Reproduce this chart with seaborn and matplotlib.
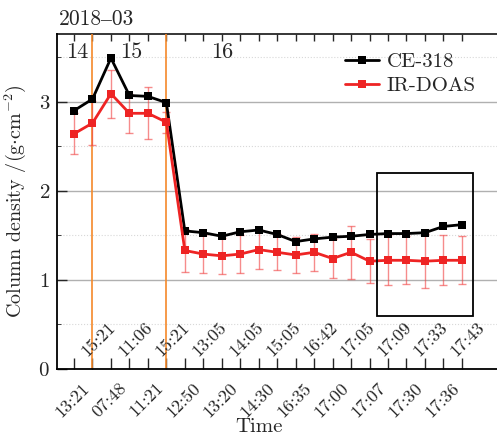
import matplotlib
matplotlib.use("Agg")
import matplotlib.pyplot as plt
import matplotlib.transforms as mtransforms
from matplotlib.patches import Rectangle
from matplotlib.ticker import MultipleLocator
import pandas as pd
import seaborn as sns

# time stamps of each measurement (2018-03, days 14/15/16)
times = ['13:21', '15:21', '07:48', '11:06', '11:21', '15:21', '12:50', '13:05',
         '13:20', '14:05', '14:30', '15:05', '16:35', '16:42', '17:00', '17:05',
         '17:07', '17:09', '17:30', '17:33', '17:36', '17:43']
ce318 = [2.90, 3.03, 3.49, 3.07, 3.06, 2.99, 1.55, 1.53, 1.49, 1.54, 1.56,
         1.51, 1.43, 1.46, 1.48, 1.49, 1.51, 1.52, 1.52, 1.53, 1.60, 1.62]
irdoas = [2.64, 2.76, 3.09, 2.87, 2.87, 2.77, 1.33, 1.29, 1.27, 1.29, 1.34,
          1.31, 1.28, 1.31, 1.24, 1.31, 1.21, 1.22, 1.22, 1.21, 1.22, 1.22]
irdoas_err = [0.23, 0.25, 0.27, 0.22, 0.29, 0.12, 0.24, 0.21, 0.20, 0.21, 0.22,
              0.20, 0.20, 0.21, 0.22, 0.30, 0.25, 0.28, 0.27, 0.30, 0.28, 0.27]
day_labels = ['14', '15', '16']
day_label_x = [0.16, 3.08, 8.0]
day_breaks = [1, 5]
box_x = (16.4, 21.6)
box_y = (0.60, 2.20)

sns.set_style("white")
plt.rcParams['font.family'] = ['cmr10', 'Liberation Serif', 'DejaVu Serif']
plt.rcParams['mathtext.fontset'] = 'cm'
plt.rcParams['axes.formatter.use_mathtext'] = True
plt.rcParams['axes.unicode_minus'] = False

idx = list(range(len(times)))
df = pd.DataFrame({'idx': idx + idx,
                   'value': ce318 + irdoas,
                   'series': ['CE-318'] * len(idx) + ['IR-DOAS'] * len(idx)})

fig = plt.figure(figsize=(4.97, 4.36), dpi=100)
ax = fig.add_axes([0.1147, 0.1537, 0.8853, 0.7683])

ax.errorbar(idx, irdoas, yerr=irdoas_err, fmt='none', ecolor='#f04040',
            alpha=0.6, elinewidth=1.0, capsize=3, capthick=1.0, zorder=2)
sns.lineplot(data=df, x='idx', y='value', hue='series', style='series',
             markers=['s', 's'], dashes=False,
             palette={'CE-318': 'black', 'IR-DOAS': '#ee2424'},
             linewidth=2.0, markersize=6, markeredgewidth=0, ax=ax, zorder=3)

for b in day_breaks:
    ax.axvline(b, color='#f5892a', lw=1.2, zorder=1)
for lab, x in zip(day_labels, day_label_x):
    ax.text(x, 3.56, lab, ha='center', va='center', fontsize=16)

ax.add_patch(Rectangle((box_x[0], box_y[0]), box_x[1] - box_x[0], box_y[1] - box_y[0],
                       fill=False, ec='black', lw=1.3, zorder=4))

ax.set_xlim(-0.92, 22.9)
ax.set_ylim(0, 3.76)
ax.set_xticks(idx)
ax.set_xticklabels([])
ax.yaxis.set_major_locator(MultipleLocator(1))
ax.yaxis.set_minor_locator(MultipleLocator(0.5))
ax.tick_params(axis='x', direction='in', length=8, width=1.0, bottom=True)
ax.tick_params(axis='y', which='major', direction='in', length=7, width=1.0,
               left=True, labelsize=15, pad=5)
ax.tick_params(axis='y', which='minor', direction='in', length=3, left=True)
ax.grid(axis='y', which='major', color='#b0b0b0', lw=1.0)
ax.grid(axis='y', which='minor', color='#d8d8d8', lw=0.8, ls=':')
ax.set_axisbelow(True)

top = ax.secondary_xaxis('top')
top.set_xticks(idx)
top.set_xticklabels([])
top.tick_params(direction='in', length=5, width=1.0)
top.spines['top'].set_linewidth(1.3)

for s in ['left', 'bottom']:
    ax.spines[s].set_linewidth(1.3)
    ax.spines[s].set_color('black')
ax.spines['right'].set_visible(False)
ax.spines['top'].set_visible(False)

# staggered rotated time labels
xtr = ax.get_xaxis_transform()
for i, t in enumerate(times):
    if i % 2 == 0:
        off = mtransforms.ScaledTranslation(8 / 100, -11 / 100, fig.dpi_scale_trans)
        ax.text(i, 0, t, transform=xtr + off, rotation=45, rotation_mode='anchor',
                ha='right', va='top', fontsize=13)
    else:
        off = mtransforms.ScaledTranslation(-5 / 100, 12 / 100, fig.dpi_scale_trans)
        ax.text(i, 0, t, transform=xtr + off, rotation=45, rotation_mode='anchor',
                ha='left', va='baseline', fontsize=13)

ax.text(0.004, 1.015, '2018\u201303', transform=ax.transAxes, ha='left',
        va='bottom', fontsize=15.5)

ax.set_xlabel('Time', fontsize=15)
ax.xaxis.set_label_coords(0.46, -0.148)
ax.set_ylabel(r'Column density /(g$\cdot$cm$^{-2}$)', fontsize=14.5)
ax.yaxis.set_label_coords(-0.065, 0.5)

ax.legend(title=None, loc='upper left', bbox_to_anchor=(0.655, 0.945),
          frameon=False, fontsize=15, handlelength=1.6, handletextpad=0.4,
          labelspacing=0.25, borderpad=0, borderaxespad=0)

fig.savefig('out.png', dpi=100)
